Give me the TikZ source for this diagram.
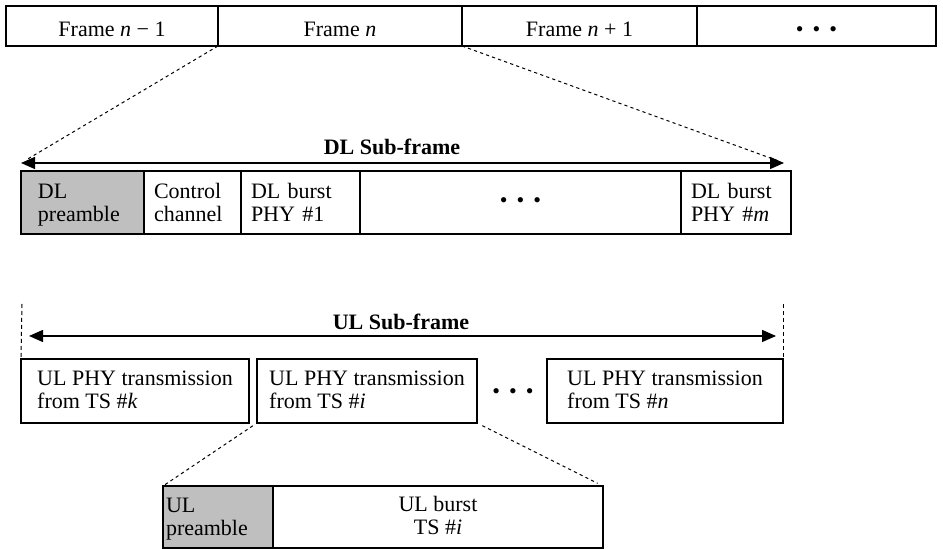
\documentclass[tikz,border=0pt]{standalone}
\usepackage{fontspec}
\setmainfont{Liberation Serif}
\usetikzlibrary{arrows.meta,positioning}

\newcommand{\tridots}{\textbullet\hspace{4.5pt}\textbullet\hspace{4.5pt}\textbullet}

\begin{document}
\begin{tikzpicture}[
    x=0.5pt, y=-0.5pt,
    cell/.style={draw, line width=0.7pt, anchor=north west, outer sep=0pt, inner xsep=5pt, inner ysep=0pt, font=\fontsize{11}{11.5}\selectfont},
    lcell/.style={cell, align=left, text height=10pt, text depth=14pt},
    ucell/.style={cell, align=left, text height=21pt, text depth=3pt},
    ccell/.style={cell, align=center},
    framecell/.style={ccell, minimum height=20pt, text height=11pt, text depth=0pt},
    grayfill/.style={fill=black!25},
    dotsnode/.style={font=\fontsize{11}{11.5}\selectfont, inner sep=0pt},
    sublabel/.style={font=\fontsize{11}{13}\selectfont\bfseries, inner sep=1pt},
    spanarrow/.style={{Triangle[length=7pt,width=6pt]}-{Triangle[length=7pt,width=6pt]}, line width=0.7pt},
    zoomline/.style={dash pattern=on 1.6pt off 1.6pt, line width=0.5pt},
    guide/.style={dash pattern=on 2pt off 1.5pt, line width=0.5pt},
]
\useasboundingbox (0,0) rectangle (943,549);

% Frames
\node[framecell, minimum width=106pt] (fprev) at (6,6) {Frame \textit{n} − 1};
\node[framecell, minimum width=122pt] (fcur) at (fprev.north east) {Frame \textit{n}};
\node[framecell, minimum width=117.5pt] (fnext) at (fcur.north east) {Frame \textit{n} + 1};
\node[framecell, minimum width=119.5pt] (fdots) at (fnext.north east) {\tridots};

% DL sub-frame
\coordinate (dlL) at (21,163);
\coordinate (dlR) at (784,163);
\draw[spanarrow] (dlL) -- (dlR);
\node[sublabel] (dllabel) at (392,147) {DL Sub-frame};
\draw[zoomline, shorten >=3pt] (fcur.south west) -- (dlL);
\draw[zoomline, shorten >=3pt] (fcur.south east) -- (dlR);

\node[lcell, grayfill, inner xsep=8.5pt, text width=44.5pt, minimum height=31.5pt] (dlpre) at (21,171) {DL\\preamble};
\node[lcell, text width=38.5pt, minimum height=31.5pt] (ctrl) at (dlpre.north east) {Control\\channel};
\node[lcell, text width=49.5pt, minimum height=31.5pt] (dlb1) at (ctrl.north east) {DL burst\\PHY \#1};
\node[ccell, minimum width=160.5pt, minimum height=31.5pt] (dldots) at (dlb1.north east) {\tridots};
\node[lcell, text width=45pt, minimum height=31.5pt] (dlbm) at (dldots.north east) {DL burst\\PHY \#\textit{m}};

% UL sub-frame
\coordinate (ulL) at (29,336);
\coordinate (ulR) at (776,336);
\draw[spanarrow] (ulL) -- (ulR);
\node[sublabel] (ullabel) at (401,322) {UL Sub-frame};

\node[ucell, minimum width=114pt, minimum height=32pt] (ulk) at (21,359) {UL PHY transmission\\from TS \#\textit{k}};
\node[ucell, minimum width=110pt, minimum height=32pt] (uli) at (257,359) {UL PHY transmission\\from TS \#\textit{i}};
\node[dotsnode] (uldots) at (513,394) {\tridots};
\node[ucell, minimum width=118pt, minimum height=32pt] (uln) at (547,359) {UL PHY transmission\\from TS \#\textit{n}};

\coordinate (ulLtop) at (22,304);
\coordinate (ulRtop) at (783,304);
\draw[guide] (ulLtop) -- (ulk.north west);
\draw[guide] (ulRtop) -- (uln.north east);

% UL burst detail
\node[lcell, grayfill, inner xsep=1.5pt, text width=52pt, minimum height=31pt] (ulpre) at (163,486) {UL\\preamble};
\node[ucell, align=center, minimum width=165pt, minimum height=31pt] (ulburst) at (ulpre.north east) {UL burst\\TS \#\textit{i}};
\draw[zoomline, shorten <=2.5pt, shorten >=1pt] (uli.south west) -- (ulpre.north west);
\draw[zoomline, shorten <=3pt, shorten >=3pt] (uli.south east) -- (ulburst.north east);

\end{tikzpicture}
\end{document}
